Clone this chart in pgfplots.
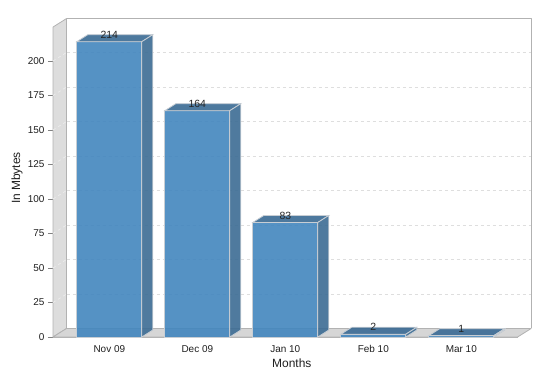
\documentclass[border=0pt]{standalone}
\usepackage{pgfplots}
\pgfplotsset{compat=1.18}
\usepackage{fontspec}
\setmainfont{Liberation Sans}
\definecolor{barfront}{RGB}{66,134,190}
\definecolor{bartop}{RGB}{58,106,148}
\definecolor{barside}{RGB}{60,108,148}
\definecolor{baredge}{RGB}{200,206,212}
\definecolor{wallfill}{RGB}{221,221,221}
\definecolor{walledge}{RGB}{178,178,178}
\definecolor{gridc}{RGB}{222,222,222}
\definecolor{wallgrid}{RGB}{236,236,236}
\definecolor{tickgray}{RGB}{130,130,130}
\pgfdeclareplotmark{bar3d}{%
  \pgfmathsetmacro\hh{\myval*1.38}%
  \pgfsetlinewidth{0.8bp}%
  \pgfsetstrokecolor{baredge}%
  \pgfsetfillopacity{0.9}%
  \pgfsetfillcolor{bartop}%
  \pgfpathmoveto{\pgfpoint{-32.5bp}{0bp}}%
  \pgfpathlineto{\pgfpoint{32.5bp}{0bp}}%
  \pgfpathlineto{\pgfpoint{43.5bp}{7bp}}%
  \pgfpathlineto{\pgfpoint{-21.5bp}{7bp}}%
  \pgfpathclose
  \pgfusepath{fill,stroke}%
  \pgfsetfillcolor{barside}%
  \pgfpathmoveto{\pgfpoint{32.5bp}{0bp}}%
  \pgfpathlineto{\pgfpoint{43.5bp}{7bp}}%
  \pgfpathlineto{\pgfpoint{43.5bp}{7bp-\hh bp}}%
  \pgfpathlineto{\pgfpoint{32.5bp}{-\hh bp}}%
  \pgfpathclose
  \pgfusepath{fill,stroke}%
}
\begin{document}
\begin{tikzpicture}
\begin{axis}[
  x=88bp, y=1.38bp,
  xmin=-0.64, xmax=4.64, ymin=0, ymax=224.6,
  clip=false,
  axis lines*=left,
  axis line style={draw=walledge, line width=0.8bp, -},
  tick align=outside,
  major tick length=5bp,
  ytick={0,25,...,200},
  xtick={0,1,2,3,4},
  xticklabels={Nov 09,Dec 09,Jan 10,Feb 10,Mar 10},
  major x tick style={draw=none},
  y tick style={draw=tickgray, line width=0.8bp},
  tick label style={font=\fontsize{10}{12}\selectfont, text=black!88},
  /pgf/number format/assume math mode=true,
  xlabel={Months}, ylabel={In Mbytes},
  label style={font=\fontsize{12}{14}\selectfont, text=black!88},
  x label style={at={(axis description cs:0.514,-0.0839)}, anchor=center},
  y label style={at={(axis description cs:-0.0775,0.513)}, anchor=center},
]
% walls
\filldraw[fill=wallfill, draw=walledge, line width=0.8bp, line join=round]
  (axis cs:-0.64,0) -- (axis cs:-0.64,224.6)
  -- ([shift={(13.5bp,8.5bp)}]axis cs:-0.64,224.6)
  -- ([shift={(13.5bp,8.5bp)}]axis cs:-0.64,0) -- cycle;
\filldraw[fill=wallfill!97!black, draw=walledge, line width=0.8bp, line join=round]
  (axis cs:-0.64,0) -- (axis cs:4.64,0)
  -- ([shift={(13.5bp,8.5bp)}]axis cs:4.64,0)
  -- ([shift={(13.5bp,8.5bp)}]axis cs:-0.64,0) -- cycle;
\draw[draw=walledge, line width=0.8bp, line join=round]
  ([shift={(13.5bp,8.5bp)}]axis cs:-0.64,224.6)
  -- ([shift={(13.5bp,8.5bp)}]axis cs:4.64,224.6)
  -- ([shift={(13.5bp,8.5bp)}]axis cs:4.64,0);
\pgfplotsinvokeforeach{25,50,75,100,125,150,175,200}{
  \draw[gridc, line width=0.7bp, dash pattern=on 3bp off 3bp]
    ([shift={(13.5bp,8.5bp)}]axis cs:-0.64,#1) -- ([shift={(13.5bp,8.5bp)}]axis cs:4.64,#1);
  \draw[wallgrid, line width=0.7bp, dash pattern=on 3bp off 3bp]
    (axis cs:-0.64,#1) -- ([shift={(13.5bp,8.5bp)}]axis cs:-0.64,#1);
}
% front faces
\addplot[ybar, bar width=65bp, bar shift=0pt, fill=barfront, fill opacity=0.9,
  draw=baredge, line width=0.8bp]
  coordinates {(0,214) (1,164) (2,83) (3,2) (4,1)};
% top and side faces, value labels
\addplot[only marks, mark=bar3d, visualization depends on={rawy \as \myval},
  nodes near coords,
  every node near coord/.append style={anchor=center, yshift=7bp,
    font=\fontsize{10.5}{12}\selectfont, text=black!85, fill opacity=1, text opacity=1},
  /pgf/number format/assume math mode=true]
  coordinates {(0,214) (1,164) (2,83) (3,2) (4,1)};
\coordinate (o) at (axis cs:-0.64,0);
\end{axis}
\pgfresetboundingbox
\path (o) ++(-53bp,-38bp) rectangle ++(545bp,375bp);
\end{tikzpicture}
\end{document}
